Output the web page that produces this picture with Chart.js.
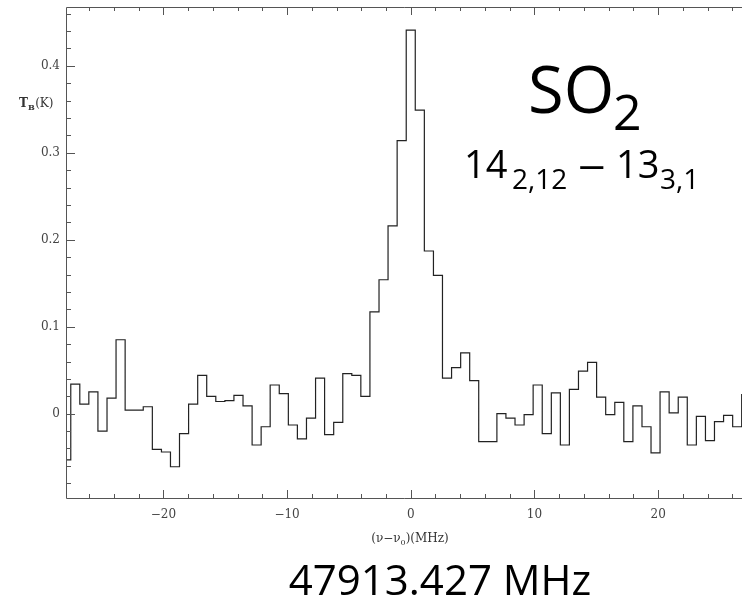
<!DOCTYPE html>
<html>
<head>
<meta charset="utf-8">
<script src="https://cdn.jsdelivr.net/npm/chart.js@4.4.1/dist/chart.umd.min.js"></script>
<style>
  html, body { margin: 0; padding: 0; background: #fff; }
</style>
</head>
<body>
<canvas id="spec" width="742" height="606"></canvas>
<script>
// channel offsets (nu - nu0) in MHz, one per spectrometer channel
var freqOffset = [
  -27.85, -27.12, -26.39, -25.66, -24.92, -24.19, -23.46, -22.72, -21.99, -21.26,
  -20.52, -19.79, -19.06, -18.33, -17.59, -16.86, -16.13, -15.39, -14.66, -13.93,
  -13.19, -12.46, -11.73, -11.00, -10.26, -9.53, -8.80, -8.06, -7.33, -6.60,
  -5.86, -5.13, -4.40, -3.67, -2.93, -2.20, -1.47, -0.73, 0.00, 0.73,
  1.47, 2.20, 2.93, 3.67, 4.40, 5.13, 5.86, 6.60, 7.33, 8.06,
  8.80, 9.53, 10.26, 11.00, 11.73, 12.46, 13.19, 13.93, 14.66, 15.39,
  16.13, 16.86, 17.59, 18.33, 19.06, 19.79, 20.52, 21.26, 21.99, 22.72,
  23.46, 24.19, 24.92, 25.66, 26.39, 27.12
];

// brightness temperature T_B (K)
var tb = [
  -0.053, 0.034, 0.011, 0.025, -0.020, 0.018, 0.085, 0.004, 0.004, 0.008,
  -0.041, -0.044, -0.061, -0.023, 0.011, 0.044, 0.020, 0.014, 0.015, 0.021,
  0.009, -0.036, -0.015, 0.033, 0.023, -0.013, -0.029, -0.005, 0.041, -0.024,
  -0.010, 0.046, 0.044, 0.020, 0.117, 0.154, 0.216, 0.314, 0.441, 0.349,
  0.187, 0.159, 0.041, 0.053, 0.070, 0.038, -0.032, -0.032, 0.000, -0.005,
  -0.013, -0.001, 0.033, -0.023, 0.024, -0.036, 0.028, 0.049, 0.059, 0.019,
  -0.001, 0.013, -0.032, 0.009, -0.015, -0.045, 0.025, 0.001, 0.019, -0.036,
  -0.003, -0.031, -0.009, -0.002, -0.015, 0.022
];

var xTicks = [-20, -10, 0, 10, 20];
var yTicks = [0, 0.1, 0.2, 0.3, 0.4];

var tickFont = { family: "DejaVu Serif", size: 12 };

// frame, inward ticks and the text around the plot
var framePlugin = {
  id: "frame",
  afterDraw(chart) {
    var ctx = chart.ctx;
    var a = chart.chartArea;
    var x = chart.scales.x;
    var y = chart.scales.y;
    ctx.save();
    ctx.strokeStyle = "#555";
    ctx.lineWidth = 1;
    ctx.beginPath();
    ctx.moveTo(chart.width, a.top + 0.5);
    ctx.lineTo(a.left - 0.5, a.top + 0.5);
    ctx.lineTo(a.left - 0.5, a.bottom + 0.5);
    ctx.lineTo(chart.width, a.bottom + 0.5);
    // x ticks, bottom and top
    for (var v = -26; v <= 26; v += 2) {
      var px = Math.round(x.getPixelForValue(v)) + 0.5;
      var len = v % 10 === 0 ? 8 : 4;
      ctx.moveTo(px, a.bottom);
      ctx.lineTo(px, a.bottom - len);
      ctx.moveTo(px, a.top);
      ctx.lineTo(px, a.top + len);
    }
    // y ticks
    for (var k = -4; k <= 23; k++) {
      var py = Math.round(y.getPixelForValue(k * 0.02)) + 0.5;
      var l = k % 5 === 0 ? 8 : 4;
      ctx.moveTo(a.left, py);
      ctx.lineTo(a.left + l, py);
    }
    ctx.stroke();

    // y axis title T_B(K)
    ctx.fillStyle = "#333";
    ctx.textBaseline = "alphabetic";
    ctx.textAlign = "left";
    ctx.font = "bold 12px 'DejaVu Serif'";
    ctx.fillText("T", 19, 107);
    var tx = 19 + ctx.measureText("T").width;
    ctx.font = "bold 8px 'DejaVu Serif'";
    ctx.fillText("B", tx, 110);
    tx += ctx.measureText("B").width + 0.5;
    ctx.font = "12px 'DejaVu Serif'";
    ctx.fillText("(K)", tx, 107);

    // x axis title (nu - nu0)(MHz)
    var p1 = "(\u03BD\u2212\u03BD", p2 = "0", p3 = ")(MHz)";
    ctx.font = "12px 'DejaVu Serif'";
    var w1 = ctx.measureText(p1).width, w3 = ctx.measureText(p3).width;
    ctx.font = "8px 'DejaVu Serif'";
    var w2 = ctx.measureText(p2).width;
    var sx = 410 - (w1 + w2 + w3) / 2;
    ctx.font = "12px 'DejaVu Serif'";
    ctx.fillText(p1, sx, 542);
    ctx.font = "8px 'DejaVu Serif'";
    ctx.fillText(p2, sx + w1, 545);
    ctx.font = "12px 'DejaVu Serif'";
    ctx.fillText(p3, sx + w1 + w2, 542);

    // molecule and transition
    ctx.fillStyle = "#000";
    ctx.font = "65px 'Open Sans'";
    ctx.fillText("SO", 528, 113);
    ctx.font = "50px 'Open Sans'";
    ctx.fillText("2", 613, 130);

    ctx.font = "38px 'Open Sans'";
    ctx.fillText("14", 464, 178);
    ctx.font = "28px 'Open Sans'";
    ctx.fillText("2,12", 512, 189);
    ctx.save();
    ctx.translate(578, 178);
    ctx.scale(1.45, 1);
    ctx.font = "38px 'Open Sans'";
    ctx.fillText("\u2013", 0, 0);
    ctx.restore();
    ctx.font = "38px 'Open Sans'";
    ctx.fillText("13", 616, 178);
    ctx.font = "28px 'Open Sans'";
    ctx.fillText("3,1", 660, 189);

    // rest frequency
    ctx.textAlign = "center";
    ctx.font = "42px 'Open Sans'";
    ctx.fillText("47913.427 MHz", 440, 595);
    ctx.restore();
  }
};

var ctx = document.getElementById("spec");
var chart = new Chart(ctx, {
  type: "line",
  data: {
    datasets: [
      {
        data: freqOffset.map((f, i) => ({ x: f, y: tb[i] })),
        stepped: "middle",
        borderColor: "#222",
        borderWidth: 1.2,
        pointRadius: 0,
        fill: false,
      },
    ],
  },
  options: {
    responsive: false,
    animation: false,
    layout: { padding: { top: 7, right: 0, left: 0, bottom: 0 } },
    plugins: {
      legend: { display: false },
      tooltip: { enabled: false },
    },
    scales: {
      x: {
        type: "linear",
        min: -27.79,
        max: 26.78,
        grid: { display: false, drawTicks: false },
        border: { display: false },
        afterBuildTicks: (s) => { s.ticks = xTicks.map((v) => ({ value: v })); },
        afterFit: (s) => { s.height = 108; s.paddingLeft = 0; s.paddingRight = 0; },
        ticks: {
          font: tickFont,
          color: "#444",
          padding: 10,
          maxRotation: 0,
          autoSkip: false,
          callback: (v) => (v < 0 ? "\u2212" + Math.abs(v) : String(v)),
        },
      },
      y: {
        min: -0.0969,
        max: 0.4675,
        grid: { display: false, drawTicks: false },
        border: { display: false },
        afterBuildTicks: (s) => { s.ticks = yTicks.map((v) => ({ value: v })); },
        afterFit: (s) => { s.width = 67; s.paddingTop = 0; s.paddingBottom = 0; },
        ticks: {
          font: tickFont,
          color: "#444",
          padding: 7,
          callback: (v) => (v === 0 ? "0" : v.toFixed(1)),
        },
      },
    },
  },
  plugins: [framePlugin],
});
</script>
</body>
</html>
